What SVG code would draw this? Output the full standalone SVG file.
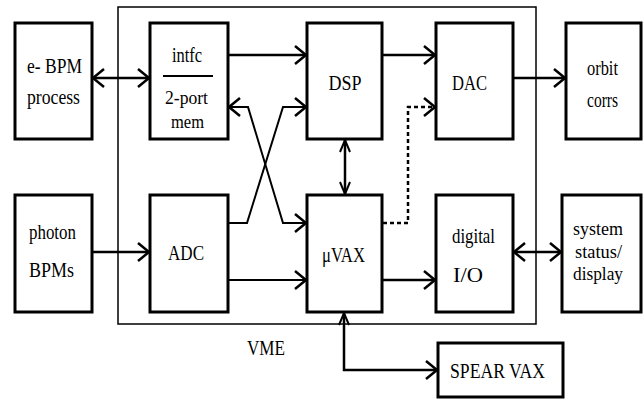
<svg xmlns="http://www.w3.org/2000/svg" width="643" height="399" viewBox="0 0 643 399">
<style>
.box{fill:#fff;stroke:#000;stroke-width:3}
.frame{fill:none;stroke:#000;stroke-width:1.5}
.c{fill:none;stroke:#000;stroke-width:2.5}
.thin{fill:none;stroke:#000;stroke-width:2}
.dash{fill:none;stroke:#000;stroke-width:2.5;stroke-dasharray:4 3}
text{font-family:'Liberation Serif','Times New Roman',Times,serif;font-size:22px;fill:#000;text-anchor:middle}
text.s{font-size:19px}
</style>
<defs>
<marker id="ah" viewBox="-12 -10 14 20" refX="0" refY="0" markerWidth="14" markerHeight="20" markerUnits="userSpaceOnUse" orient="auto-start-reverse">
<path d="M-11,-9 L0,0 L-11,9" fill="none" stroke="#000" stroke-width="2.5"/>
</marker>
<marker id="as" viewBox="-13 -7 15 14" refX="0" refY="0" markerWidth="15" markerHeight="14" markerUnits="userSpaceOnUse" orient="auto-start-reverse">
<path d="M-12,-5 L0,0 L-12,5" fill="none" stroke="#000" stroke-width="2"/>
</marker>
</defs>
<rect width="643" height="399" fill="#fff"/>
<g id="vme">
<rect class="frame" x="118" y="7" width="418" height="317"/>
<text x="266" y="355" textLength="38" lengthAdjust="spacingAndGlyphs">VME</text>
</g>
<g id="connectors">
<line class="c" x1="93" y1="78" x2="149" y2="78" stroke-width="3" marker-start="url(#ah)" marker-end="url(#ah)"/>
<line class="c" x1="229" y1="55" x2="306" y2="55" marker-end="url(#ah)"/>
<line class="c" x1="383" y1="55" x2="435" y2="55" marker-end="url(#ah)"/>
<line class="c" x1="514" y1="78" x2="565" y2="78" stroke-width="3" marker-end="url(#ah)"/>
<polyline class="thin" points="229,107 248,107 283,223 306,223" marker-start="url(#ah)" marker-end="url(#ah)"/>
<polyline class="thin" points="229,223 247,223 283,107 306,107" marker-end="url(#ah)"/>
<line class="c" x1="345" y1="140" x2="345" y2="194" marker-start="url(#as)" marker-end="url(#as)"/>
<polyline class="dash" points="383,223 408,223 408,107 435,107" marker-end="url(#ah)"/>
<line class="c" x1="93" y1="252" x2="149" y2="252" stroke-width="3" marker-end="url(#ah)"/>
<line class="thin" x1="229" y1="280" x2="306" y2="280" marker-end="url(#ah)"/>
<line class="c" x1="383" y1="280" x2="435" y2="280" marker-end="url(#ah)"/>
<line class="c" x1="514" y1="252" x2="561" y2="252" stroke-width="3" marker-start="url(#ah)" marker-end="url(#ah)"/>
<polyline class="c" points="344,313 344,370 437,370" marker-start="url(#as)" marker-end="url(#ah)"/>
</g>
<g id="ebpm">
<rect class="box" x="15" y="23" width="77" height="116"/>
<text x="54.5" y="73" textLength="55" lengthAdjust="spacingAndGlyphs">e- BPM</text>
<text x="53.5" y="104" textLength="53" lengthAdjust="spacingAndGlyphs">process</text>
</g>
<g id="intfc">
<rect class="box" x="150" y="23" width="78" height="116"/>
<text x="187" y="62" textLength="30" lengthAdjust="spacingAndGlyphs">intfc</text>
<line x1="163" y1="76" x2="213" y2="76" stroke="#000" stroke-width="2"/>
<text class="s" x="186.5" y="104" textLength="43" lengthAdjust="spacingAndGlyphs">2-port</text>
<text class="s" x="187.5" y="128" textLength="33" lengthAdjust="spacingAndGlyphs">mem</text>
</g>
<g id="dsp">
<rect class="box" x="307" y="23" width="75" height="116"/>
<text x="345" y="90" textLength="33" lengthAdjust="spacingAndGlyphs">DSP</text>
</g>
<g id="dac">
<rect class="box" x="436" y="23" width="77" height="116"/>
<text x="469.5" y="90" textLength="35" lengthAdjust="spacingAndGlyphs">DAC</text>
</g>
<g id="orbit">
<rect class="box" x="566" y="23" width="75" height="116"/>
<text x="602.5" y="75" textLength="31" lengthAdjust="spacingAndGlyphs">orbit</text>
<text x="602.5" y="107" textLength="31" lengthAdjust="spacingAndGlyphs">corrs</text>
</g>
<g id="photon">
<rect class="box" x="15" y="195" width="77" height="117"/>
<text x="52.5" y="239" textLength="47" lengthAdjust="spacingAndGlyphs">photon</text>
<text x="51.5" y="277" textLength="45" lengthAdjust="spacingAndGlyphs">BPMs</text>
</g>
<g id="adc">
<rect class="box" x="150" y="195" width="78" height="117"/>
<text x="186" y="260" textLength="36" lengthAdjust="spacingAndGlyphs">ADC</text>
</g>
<g id="uvax">
<rect class="box" x="307" y="195" width="75" height="117"/>
<text x="343.5" y="262" textLength="43" lengthAdjust="spacingAndGlyphs">μVAX</text>
</g>
<g id="digital">
<rect class="box" x="436" y="195" width="77" height="117"/>
<text x="473.5" y="243" textLength="43" lengthAdjust="spacingAndGlyphs">digital</text>
<text x="468" y="282" textLength="30" lengthAdjust="spacingAndGlyphs">I/O</text>
</g>
<g id="system">
<rect class="box" x="562" y="195" width="79" height="117"/>
<text class="s" x="598" y="235" textLength="50" lengthAdjust="spacingAndGlyphs">system</text>
<text class="s" x="598.5" y="258" textLength="47" lengthAdjust="spacingAndGlyphs">status/</text>
<text class="s" x="598" y="280" textLength="50" lengthAdjust="spacingAndGlyphs">display</text>
</g>
<g id="spear">
<rect class="box" x="438" y="343" width="125" height="54"/>
<text x="497.5" y="378" textLength="95" lengthAdjust="spacingAndGlyphs">SPEAR VAX</text>
</g>
</svg>
